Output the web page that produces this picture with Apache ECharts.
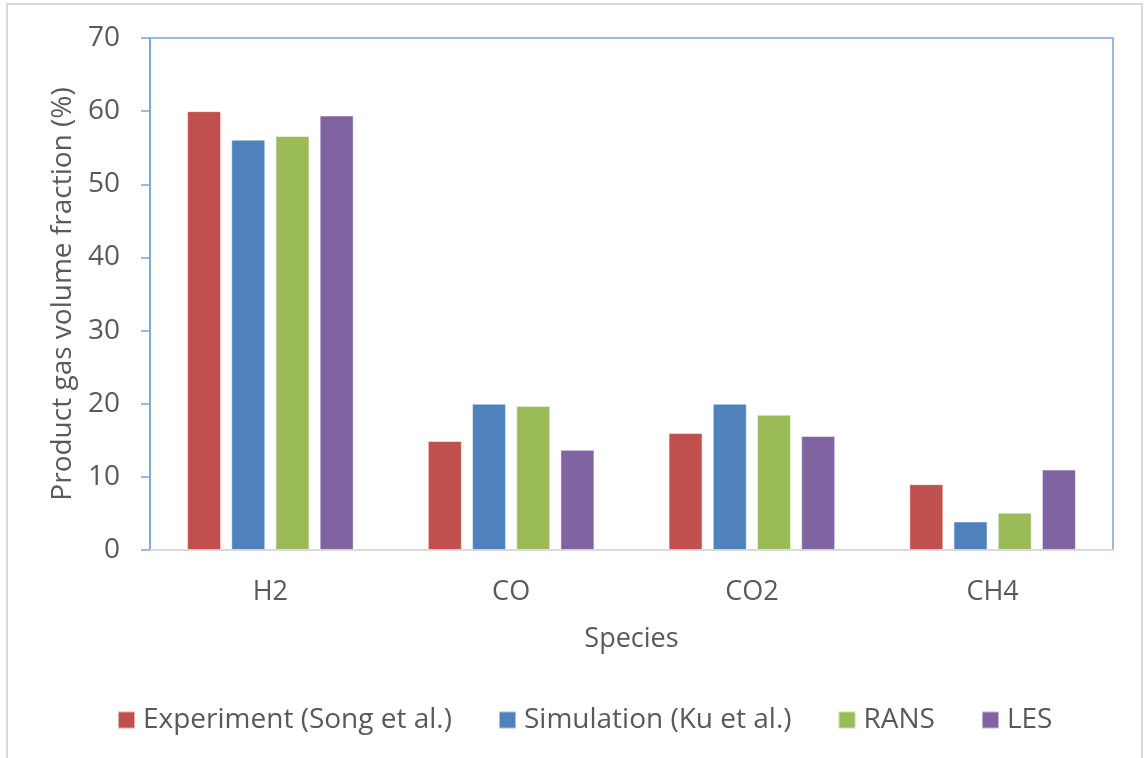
<!DOCTYPE html>
<html>
<head>
<meta charset="utf-8">
<script src="https://cdn.jsdelivr.net/npm/echarts@6/dist/echarts.min.js"></script>
<style>
html,body{margin:0;padding:0;background:#fff;}
#chart{width:1146px;height:758px;}
</style>
</head>
<body>
<div id="chart"></div>
<script>
const categories = ['H2', 'CO', 'CO2', 'CH4'];
const seriesNames = ['Experiment (Song et al.)', 'Simulation (Ku et al.)', 'RANS', 'LES'];
const experiment = [60, 14.9, 16, 9];
const simulation = [56.1, 20, 20, 3.9];
const rans = [56.6, 19.7, 18.5, 5.1];
const les = [59.4, 13.7, 15.6, 11];
const yTicks = [0, 10, 20, 30, 40, 50, 60, 70];
const colors = ['#c0504d', '#4f81bd', '#9bbb59', '#8064a2'];

const values = [experiment, simulation, rans, les];
const font = 'Open Sans';
const textColor = '#595959';

const chart = echarts.init(document.getElementById('chart'));
chart.setOption({
  animation: false,
  backgroundColor: '#fff',
  textStyle: { fontFamily: font },
  graphic: [{
    type: 'rect',
    shape: { x: 7, y: 4, width: 1135, height: 770 },
    style: { fill: 'none', stroke: '#d9d9d9', lineWidth: 2 },
    silent: true, z: -1
  }],
  grid: {
    left: 150, right: 33, top: 38, bottom: 208,
    show: true, borderColor: '#7ea3d0', borderWidth: 1.5, backgroundColor: 'transparent'
  },
  legend: {
    left: 117, top: 706, padding: 0,
    itemWidth: 17, itemHeight: 17, itemGap: 46,
    icon: 'rect',
    textStyle: { fontFamily: font, fontSize: 28, color: textColor, padding: [0, 0, 0, 3] },
    data: seriesNames
  },
  xAxis: {
    type: 'category',
    data: categories,
    name: 'Species',
    nameLocation: 'middle',
    nameGap: 76,
    nameTextStyle: { fontFamily: font, fontSize: 27, color: textColor },
    axisLine: { lineStyle: { color: '#d9d9d9', width: 2 } },
    axisTick: { show: false },
    axisLabel: { fontFamily: font, fontSize: 27, color: textColor, margin: 29 },
    splitLine: { show: false }
  },
  yAxis: {
    type: 'value',
    min: 0, max: 70, interval: 10,
    name: 'Product gas volume fraction (%)',
    nameLocation: 'middle',
    nameGap: 73,
    nameTextStyle: { fontFamily: font, fontSize: 28, color: textColor },
    axisLine: { show: true, lineStyle: { color: '#7ea3d0', width: 1.5 } },
    axisTick: { show: true, length: 9, lineStyle: { color: '#7ea3d0', width: 1.5 } },
    axisLabel: { fontFamily: font, fontSize: 28, color: textColor, margin: 30,
      formatter: v => yTicks.includes(v) ? String(v) : '' },
    splitLine: { show: false }
  },
  series: seriesNames.map((name, i) => ({
    name: name,
    type: 'bar',
    data: values[i],
    barWidth: 34,
    barGap: '30%',
    itemStyle: { color: colors[i], borderColor: 'rgba(255,255,255,0.5)', borderWidth: 1 }
  }))
});
</script>
</body>
</html>
